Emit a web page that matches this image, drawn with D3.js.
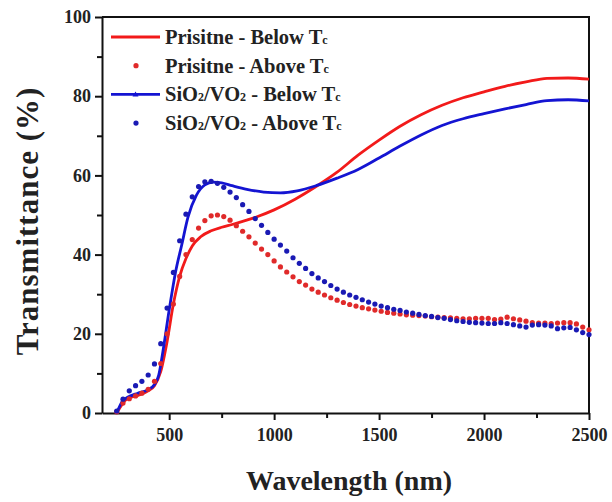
<!DOCTYPE html>
<head>
  <meta charset="utf-8">
  <script src="https://cdnjs.cloudflare.com/ajax/libs/d3/7.8.5/d3.min.js"></script>
  <style>
    body { margin: 0; background: #fff; }
    svg { font-family: "Liberation Serif", "Times New Roman", serif; font-weight: bold; }
    .axis path, .axis line { stroke: #111; stroke-width: 2; }
    .axis text { font-size: 18px; font-weight: bold; fill: #222; font-family: "Liberation Serif", serif; }
  </style>
</head>
<body>
<svg width="612" height="502"></svg>
<script>
  // solid curves (below Tc)
  var pristineBelowX = [250, 300, 350, 400, 430, 460, 490, 520, 550, 580, 610, 650, 700, 750, 800, 900, 1000, 1100, 1200, 1300, 1400, 1500, 1600, 1700, 1800, 1900, 2000, 2100, 2200, 2300, 2400, 2500];
  var pristineBelowY = [0, 3.6, 4.4, 5.6, 6.9, 10.5, 18, 27.5, 34.5, 39, 42.2, 44.5, 46, 46.9, 47.6, 49.2, 51.3, 54, 57.2, 60.8, 65.1, 68.9, 72.4, 75.3, 77.7, 79.6, 81.1, 82.5, 83.6, 84.5, 84.6, 84.3];
  var sioBelowX = [250, 280, 300, 350, 400, 430, 450, 470, 500, 530, 560, 590, 630, 670, 710, 750, 800, 870, 950, 1030, 1110, 1200, 1300, 1400, 1500, 1600, 1700, 1800, 1900, 2000, 2100, 2200, 2300, 2400, 2500];
  var sioBelowY = [0, 3.2, 3.9, 5, 5.9, 7.2, 9.5, 15.5, 26, 35.5, 42.5, 49.5, 55, 57.6, 58.3, 58.1, 57.4, 56.5, 55.8, 55.6, 56.1, 57.4, 59.3, 61.5, 64.4, 67.4, 70.2, 72.6, 74.3, 75.6, 76.8, 77.9, 78.9, 79.1, 78.8];

  // dotted curves (above Tc), one dot every 30 nm
  var aboveX = [250, 280, 310, 340, 370, 400, 430, 460, 490, 520, 550, 580, 610, 640, 670, 700, 730, 760, 790, 820, 850, 880, 910, 940, 970, 1000, 1030, 1060, 1090, 1120, 1150, 1180, 1210, 1240, 1270, 1300, 1330, 1360, 1390, 1420, 1450, 1480, 1510, 1540, 1570, 1600, 1630, 1660, 1690, 1720, 1750, 1780, 1810, 1840, 1870, 1900, 1930, 1960, 1990, 2020, 2050, 2080, 2110, 2140, 2170, 2200, 2230, 2260, 2290, 2320, 2350, 2380, 2410, 2440, 2470, 2500];
  var pristineAboveY = [0.3, 2.5, 3.6, 4.3, 5.0, 6.0, 8.0, 12.5, 20, 27.5, 34.5, 40, 43.8, 46.7, 48.6, 49.8, 50.0, 49.6, 48.7, 47.3, 45.9, 44.5, 42.9, 41.4, 40.0, 38.4, 36.9, 35.6, 34.4, 33.2, 32.3, 31.3, 30.5, 29.8, 29.1, 28.5, 27.9, 27.4, 27.0, 26.6, 26.3, 26.0, 25.7, 25.4, 25.2, 25.0, 24.8, 24.7, 24.6, 24.5, 24.3, 24.2, 24.1, 24.0, 23.9, 23.8, 23.8, 23.9, 23.9, 23.9, 23.6, 23.7, 24.2, 23.8, 23.5, 23.2, 22.8, 22.7, 22.7, 22.6, 22.7, 22.8, 22.8, 22.5, 21.7, 21.0];
  var sioAboveY = [0.5, 3.5, 5.6, 6.9, 8.0, 9.6, 12.4, 17.5, 26.5, 35.5, 43.5, 50.2, 54.6, 57.2, 58.4, 58.5, 58.0, 57.0, 55.8, 54.4, 52.6, 50.9, 49.1, 47.4, 45.6, 43.9, 42.4, 40.9, 39.2, 37.8, 36.5, 35.2, 34.1, 33.2, 32.2, 31.3, 30.5, 29.8, 29.2, 28.6, 28.0, 27.5, 27.0, 26.6, 26.2, 25.9, 25.5, 25.2, 24.9, 24.6, 24.4, 24.1, 23.9, 23.6, 23.3, 23.1, 22.9, 22.8, 22.7, 22.6, 22.6, 22.8, 22.6, 22.3, 22.0, 21.7, 22.2, 22.3, 22.2, 22.0, 21.3, 21.5, 21.6, 21.0, 20.3, 19.8];

  var xTicks = [500, 1000, 1500, 2000, 2500];
  var yTicks = [0, 20, 40, 60, 80, 100];
  var red = '#f21a1a', blue = '#1414d2';
  var redDot = '#e02a2a', blueDot = '#1a1ab4';

  var mLeft = 102, mRight = 589, mTop = 17, mBottom = 413;
  var svg = d3.select('svg');
  var x = d3.scaleLinear().domain([180, 2500]).range([mLeft, mRight]);
  var y = d3.scaleLinear().domain([0, 100]).range([mBottom, mTop]);

  // minor ticks
  svg.append('g').attr('class', 'axis')
    .attr('transform', 'translate(0,' + mBottom + ')')
    .call(d3.axisBottom(x).tickValues([750, 1250, 1750, 2250]).tickSize(5).tickFormat(''))
    .select('.domain').remove();
  svg.append('g').attr('class', 'axis')
    .attr('transform', 'translate(' + mLeft + ',0)')
    .call(d3.axisLeft(y).tickValues([10, 30, 50, 70, 90]).tickSize(5).tickFormat(''))
    .select('.domain').remove();

  var xAxis = svg.append('g').attr('class', 'axis')
    .attr('transform', 'translate(0,' + mBottom + ')')
    .call(d3.axisBottom(x).tickValues(xTicks).tickFormat(d3.format('d'))
      .tickSize(7).tickSizeOuter(0).tickPadding(8));
  var yAxis = svg.append('g').attr('class', 'axis')
    .attr('transform', 'translate(' + mLeft + ',0)')
    .call(d3.axisLeft(y).tickValues(yTicks).tickFormat(d3.format('d'))
      .tickSize(7).tickSizeOuter(0).tickPadding(4));

  // frame top + right
  svg.append('path')
    .attr('d', 'M' + mLeft + ',' + mTop + 'H' + mRight + 'V' + mBottom)
    .attr('fill', 'none').attr('stroke', '#111').attr('stroke-width', 2);

  var line = d3.line()
    .x(function(d) { return x(d[0]); })
    .y(function(d) { return y(d[1]); })
    .curve(d3.curveMonotoneX);

  var plot = svg.append('g');
  plot.append('path')
    .datum(d3.zip(pristineBelowX, pristineBelowY))
    .attr('d', line).attr('fill', 'none').attr('stroke', red).attr('stroke-width', 2.8);
  plot.append('path')
    .datum(d3.zip(sioBelowX, sioBelowY))
    .attr('d', line).attr('fill', 'none').attr('stroke', blue).attr('stroke-width', 2.8);

  plot.selectAll('circle.pa')
    .data(d3.zip(aboveX, pristineAboveY)).enter().append('circle')
    .attr('class', 'pa')
    .attr('cx', function(d) { return x(d[0]); })
    .attr('cy', function(d) { return y(d[1]); })
    .attr('r', 2.6).attr('fill', redDot);
  plot.selectAll('circle.sa')
    .data(d3.zip(aboveX, sioAboveY)).enter().append('circle')
    .attr('class', 'sa')
    .attr('cx', function(d) { return x(d[0]); })
    .attr('cy', function(d) { return y(d[1]); })
    .attr('r', 2.6).attr('fill', blueDot);

  // legend
  var legendItems = [
    {label: 'Prisitne - Below T', sub: false, color: red, type: 'line'},
    {label: 'Prisitne - Above T', sub: false, color: redDot, type: 'dot'},
    {label: ' - Below T', sub: true, color: blue, type: 'line'},
    {label: ' - Above T', sub: true, color: blueDot, type: 'dot'}
  ];
  var legend = svg.append('g').attr('transform', 'translate(111,37)');
  legendItems.forEach(function(d, i) {
    var g = legend.append('g').attr('transform', 'translate(0,' + (i * 28.7) + ')');
    if (d.type === 'line') {
      g.append('line').attr('x1', 0).attr('x2', 49).attr('y1', 0).attr('y2', 0)
        .attr('stroke', d.color).attr('stroke-width', 2.8);
      if (d.sub) {
        g.append('path').attr('d', 'M24.5,-3L27.5,2L21.5,2Z').attr('fill', d.color);
      }
    } else {
      g.append('circle').attr('cx', 25).attr('cy', 0).attr('r', 2.6).attr('fill', d.color);
    }
    var t = g.append('text').attr('x', 54).attr('y', 7).attr('font-size', 20.5).attr('fill', '#222');
    if (d.sub) {
      t.append('tspan').text('SiO');
      t.append('tspan').attr('font-size', 12).text('2');
      t.append('tspan').text('/VO');
      t.append('tspan').attr('font-size', 12).text('2');
    }
    t.append('tspan').text(d.label);
    t.append('tspan').attr('font-size', 12).text('c');
  });

  // axis titles
  svg.append('text')
    .attr('x', 349).attr('y', 490)
    .attr('text-anchor', 'middle').attr('font-size', 28).attr('fill', '#222')
    .text('Wavelength (nm)');
  svg.append('text')
    .attr('transform', 'translate(38,221)rotate(-90)')
    .attr('text-anchor', 'middle').attr('font-size', 31).attr('fill', '#222')
    .attr('letter-spacing', 1)
    .text('Transmittance (%)');
</script>
</body>
